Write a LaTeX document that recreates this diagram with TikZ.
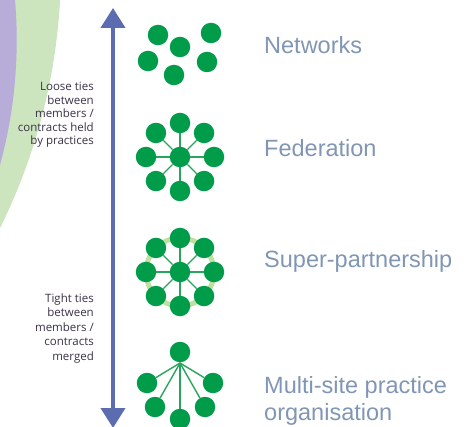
\documentclass[tikz,border=0pt]{standalone}
\usepackage{fontspec}
\setmainfont{Liberation Sans}
\newfontfamily\sidefont{Open Sans}
\usetikzlibrary{arrows.meta}
\definecolor{arrowblue}{RGB}{92,108,176}
\definecolor{nodegreen}{RGB}{0,156,74}
\definecolor{spokegreen}{RGB}{40,165,90}
\definecolor{ringgreen}{RGB}{190,224,160}
\definecolor{labelgray}{RGB}{128,150,180}
\definecolor{sidetext}{RGB}{58,50,70}
\definecolor{bggreen}{RGB}{204,229,190}
\definecolor{bgpurple}{RGB}{184,172,216}
\begin{document}
\begin{tikzpicture}[x=1pt,y=-1pt,
  dot/.style={circle,fill=nodegreen,minimum size=20.5pt,inner sep=0pt},
  spoke/.style={draw=spokegreen,line width=1.4pt},
  lab/.style={text=labelgray,font=\fontsize{23.5}{27}\selectfont,inner sep=0pt},
  side/.style={anchor=north east,align=right,text=sidetext,font=\sidefont\fontsize{11.5}{13.5}\selectfont,inner sep=0pt},
  bigarrow/.style={draw=arrowblue,line width=4pt,{Triangle[width=24pt,length=20pt]}-{Triangle[width=24pt,length=20pt]}}]
\useasboundingbox (0,0) rectangle (465,427);
% background arcs
\begin{scope}
  \clip (0,0) rectangle (465,427);
  \fill[bggreen] (-527,-33) circle[radius=588pt];
  \fill[bgpurple] (-456,40) circle[radius=472.7pt];
\end{scope}
% vertical arrow
\coordinate (atop) at (113,8);
\coordinate (abot) at (113,428);
\draw[bigarrow] (abot) -- (atop);
% side texts
\node[side] (loose) at (94,82) {Loose ties\\between\\members /\\contracts held\\by practices};
\node[side,font=\sidefont\fontsize{11.5}{14.5}\selectfont] (tight) at (94,293.5) {Tight ties\\between\\members /\\contracts\\merged};
% Networks
\node[dot] (n1) at (158,35) {};
\node[dot] (n2) at (180,47) {};
\node[dot] (n3) at (211,33) {};
\node[dot] (n4) at (148,61) {};
\node[dot] (n5) at (207,62) {};
\node[dot] (n6) at (174,75) {};
% Federation
\node[dot] (fc) at (180,157) {};
\begin{scope}[shift={(180,157)}]
  \foreach \a [count=\i] in {0,45,...,315}
    \node[dot] (f\i) at (\a:34) {};
\end{scope}
\foreach \i in {1,...,8} \draw[spoke] (fc) -- (f\i);
% Super-partnership
\draw[ringgreen,line width=5pt] (180,272) circle[radius=34pt];
\node[dot] (sc) at (180,272) {};
\begin{scope}[shift={(180,272)}]
  \foreach \a [count=\i] in {0,45,...,315}
    \node[dot] (s\i) at (\a:34) {};
\end{scope}
\foreach \i in {1,...,8} \draw[spoke] (sc) -- (s\i);
% Multi-site practice organisation
\node[dot] (m0) at (180,352) {};
\coordinate (mj) at (180,363);
\node[dot] (m1) at (147,383) {};
\node[dot] (m2) at (213,383) {};
\node[dot] (m3) at (155,407) {};
\node[dot] (m4) at (205,407) {};
\node[dot] (m5) at (180,419) {};
\foreach \i in {1,...,5} \draw[spoke] (mj) -- (m\i);
% labels
\node[lab,anchor=base west] (lnet) at (264,54) {Networks};
\node[lab,anchor=base west] (lfed) at (264,156.5) {Federation};
\node[lab,anchor=base west] (lsup) at (264,268) {Super-partnership};
\node[lab,anchor=north west,align=left] (lmul) at (264,376.2) {Multi-site practice\\organisation};
\end{tikzpicture}
\end{document}
